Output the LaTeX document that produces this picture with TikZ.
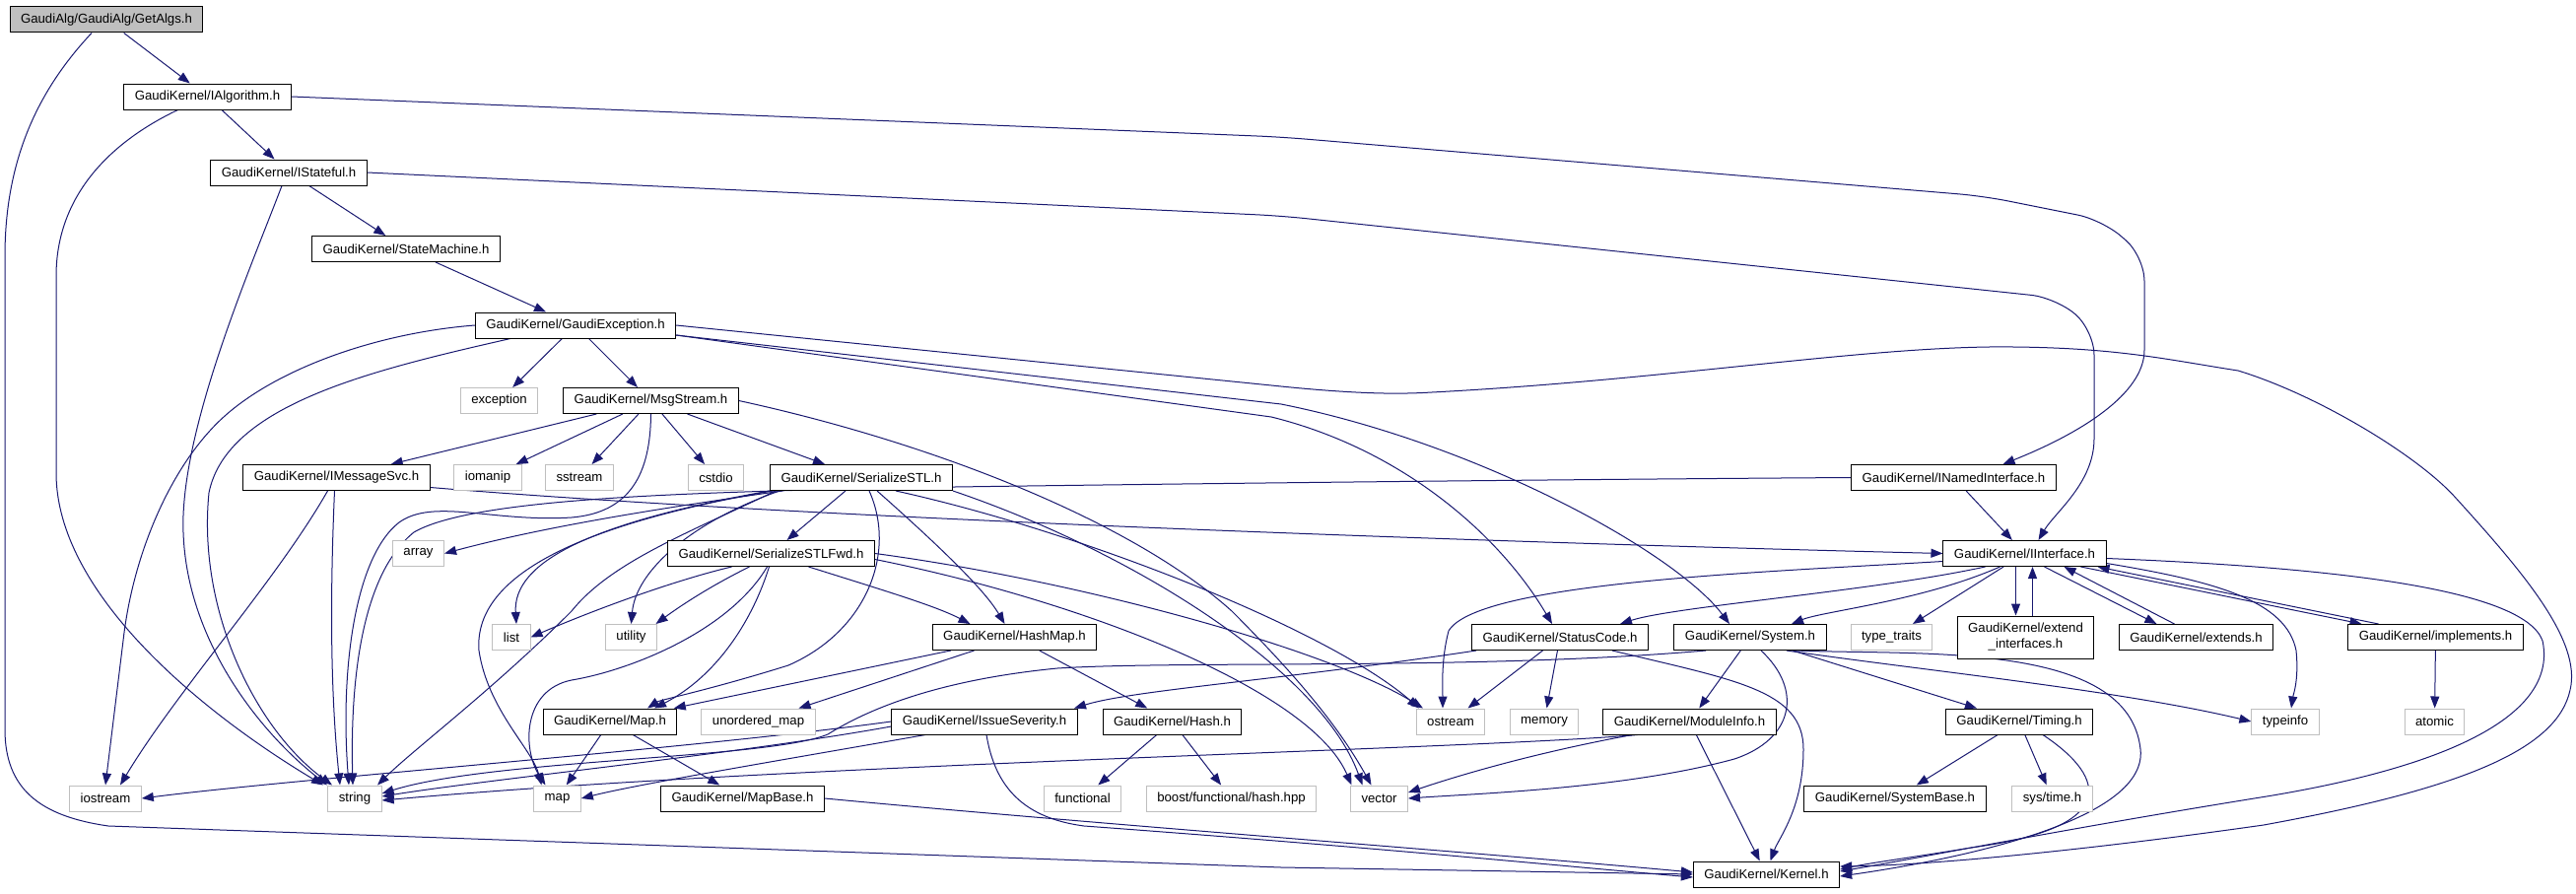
\documentclass[tikz,border=0pt]{standalone}
\usepackage{fontspec}
\setmainfont{Liberation Sans}
\usepackage{xcolor}
\usetikzlibrary{arrows.meta,backgrounds}
\definecolor{edgeblue}{HTML}{191970}
\definecolor{boxgrey}{HTML}{BFBFBF}

\begin{document}
\begin{tikzpicture}[
  x=1pt,y=-1pt,
  every node/.style={font=\fontsize{13.2}{16}\selectfont},
  hdr/.style={draw=black,line width=1pt,fill=white,minimum height=26pt,
              inner xsep=11pt,inner ysep=2pt},
  root/.style={hdr,fill=boxgrey},
  sys/.style={hdr,draw=boxgrey},
  dep/.style={draw=edgeblue,line width=1pt,-{Triangle[length=12pt,width=9pt]}}
]
\useasboundingbox (0,0) rectangle (2614,907);

\node[root] (getalgs) at (108,20) {GaudiAlg/GaudiAlg/GetAlgs.h};
\node[hdr] (ialg) at (210.5,98) {GaudiKernel/IAlgorithm.h};
\node[hdr] (istateful) at (293,175) {GaudiKernel/IStateful.h};
\node[hdr] (statemach) at (412,252.5) {GaudiKernel/StateMachine.h};
\node[hdr] (gexcept) at (584,330) {GaudiKernel/GaudiException.h};
\node[sys] (exc) at (506.5,406.5) {exception};
\node[hdr] (msgstream) at (660.5,406.5) {GaudiKernel/MsgStream.h};
\node[hdr] (imsgsvc) at (341.5,484.5) {GaudiKernel/IMessageSvc.h};
\node[sys] (iomanip) at (495,484.5) {iomanip};
\node[sys] (sstream) at (588,484.5) {sstream};
\node[sys] (cstdio) at (726.5,484.5) {cstdio};
\node[hdr] (serstl) at (874,484.5) {GaudiKernel/SerializeSTL.h};
\node[hdr] (inamed) at (1982.5,484.5) {GaudiKernel/INamedInterface.h};
\node[sys] (array) at (424.5,561.5) {array};
\node[hdr] (serfwd) at (782.5,561.5) {GaudiKernel/SerializeSTLFwd.h};
\node[hdr] (iiface) at (2054.5,561.5) {GaudiKernel/IInterface.h};
\node[sys] (list) at (519,646.5) {list};
\node[sys] (utility) at (640.5,646.5) {utility};
\node[hdr] (hashmap) at (1029.5,646.5) {GaudiKernel/HashMap.h};
\node[hdr] (statuscode) at (1583,646.5) {GaudiKernel/StatusCode.h};
\node[hdr] (system) at (1776,646.5) {GaudiKernel/System.h};
\node[sys] (typetraits) at (1919.5,646.5) {type\_traits};
\node[hdr,align=center,minimum height=43pt] (extif) at (2055.5,646.5) {GaudiKernel/extend\\\_interfaces.h};
\node[hdr] (extends) at (2228.5,646.5) {GaudiKernel/extends.h};
\node[hdr] (implements) at (2471.5,646.5) {GaudiKernel/implements.h};
\node[hdr] (maph) at (619,732) {GaudiKernel/Map.h};
\node[sys] (umap) at (769.5,732) {unordered\_map};
\node[hdr] (issue) at (999,732) {GaudiKernel/IssueSeverity.h};
\node[hdr] (hash) at (1189.5,732) {GaudiKernel/Hash.h};
\node[sys] (ostream) at (1472,732) {ostream};
\node[sys] (memory) at (1567,732) {memory};
\node[hdr] (modinfo) at (1714.5,732) {GaudiKernel/ModuleInfo.h};
\node[hdr] (timing) at (2049,732) {GaudiKernel/Timing.h};
\node[sys] (typeinfo) at (2319,732) {typeinfo};
\node[sys] (atomic) at (2470.5,732) {atomic};
\node[sys] (iostream) at (107,810) {iostream};
\node[sys] (string) at (360,810) {string};
\node[sys] (map) at (565.5,810) {map};
\node[hdr] (mapbase) at (753.5,810) {GaudiKernel/MapBase.h};
\node[sys] (functional) at (1098.5,810) {functional};
\node[sys] (boosthash) at (1249.5,810) {boost/functional/hash.hpp};
\node[sys] (vector) at (1399.5,810) {vector};
\node[hdr] (sysbase) at (1923,810) {GaudiKernel/SystemBase.h};
\node[sys] (systime) at (2082.5,810) {sys/time.h};
\node[hdr] (kernel) at (1792.5,887) {GaudiKernel/Kernel.h};

\begin{pgfonlayer}{background}
\draw[dep] (getalgs) -- (ialg);
\draw[dep] ([xshift=-15pt]getalgs.south) .. controls (40,90) and (5,160) .. (5,260) -- (5,740)
  .. controls (5,800) and (40,828) .. (110,838) -- (1300,880) -- (kernel.west);
\draw[dep] (ialg) -- (istateful);
\draw[dep] ([xshift=-30pt]ialg.south) .. controls (110,145) and (57,200) .. (57,280) -- (57,480)
  .. controls (57,600) and (200,720) .. ([xshift=-32pt]string.north);
\draw[dep,rounded corners=25pt] (ialg.east) -- (1300,139) -- (2013,199) -- (2133,223) -- (2176,260)
  -- (2176,330) .. controls (2176,400) and (2110,440) .. ([xshift=50pt]inamed.north);
\draw[dep] (istateful) -- (statemach);
\draw[dep] ([xshift=-7pt]istateful.south) .. controls (255,270) and (190,420) .. (186,523)
  .. controls (182,640) and (260,740) .. ([xshift=-28pt]string.north);
\draw[dep,rounded corners=25pt] (istateful.east) -- (1300,219) -- (2086,302) -- (2125,335)
  -- (2125,420) .. controls (2125,490) and (2085,520) .. ([xshift=14pt]iiface.north);
\draw[dep] (statemach) -- (gexcept);

\draw[dep] (gexcept) -- (exc);
\draw[dep] (gexcept) -- (msgstream);
\draw[dep] (gexcept.west) .. controls (380,338) and (280,375) .. (227,423)
  .. controls (175,470) and (135,560) .. (125,650) -- (iostream.north);
\draw[dep] ([xshift=-66pt]gexcept.south) .. controls (380,375) and (230,410) .. (212,500)
  .. controls (200,620) and (260,740) .. ([xshift=-23pt]string.north);
\draw[dep] ([yshift=-10pt]gexcept.east) -- (1290,423) .. controls (1420,455) and (1520,540) .. ([xshift=-8pt]statuscode.north);
\draw[dep] ([yshift=-10pt]gexcept.east) -- (1300,410) .. controls (1500,450) and (1700,560) .. ([xshift=-21pt]system.north);
\draw[dep] (gexcept.east) -- (1300,392) .. controls (1380,400) and (1420,400) .. (1453,398)
  .. controls (1700,385) and (1900,350) .. (2043,352) .. controls (2150,353) and (2200,365) .. (2271,376)
  .. controls (2350,400) and (2450,460) .. (2490,503) .. controls (2560,580) and (2620,650) .. (2608,700)
  .. controls (2595,760) and (2500,800) .. (2297,837) .. controls (2100,865) and (1950,878) .. ([yshift=8pt]kernel.east);

\draw[dep] (msgstream) -- (imsgsvc);
\draw[dep] (msgstream) -- (iomanip);
\draw[dep] (msgstream) -- (sstream);
\draw[dep] (msgstream) -- (cstdio);
\draw[dep] (msgstream) -- (serstl);
\draw[dep] (msgstream.south) .. controls (660,480) and (640,520) .. (580,525)
  .. controls (500,530) and (440,505) .. (405,530) .. controls (360,565) and (345,680) .. ([xshift=-6pt]string.north);
\draw[dep] (msgstream.east) .. controls (950,450) and (1150,530) .. (1250,620)
  .. controls (1320,690) and (1360,740) .. ([xshift=-8pt]vector.north);

\draw[dep] ([xshift=-9pt]imsgsvc.south) .. controls (280,590) and (180,700) .. ([xshift=15pt]iostream.north);
\draw[dep] ([xshift=-2pt]imsgsvc.south) .. controls (335,600) and (335,700) .. ([xshift=-15pt]string.north);
\draw[dep] ([yshift=-10pt]imsgsvc.east) .. controls (800,525) and (1500,550) .. (iiface.west);

\draw[dep] (inamed) -- (iiface);
\draw[dep] (inamed.west) .. controls (1500,487) and (1100,492) .. (900,495)
  .. controls (700,500) and (480,505) .. (420,540) .. controls (370,580) and (355,680) .. ([xshift=-2pt]string.north);

\draw[dep] (serstl) -- (serfwd);
\draw[dep] ([xshift=-80pt]serstl.south) .. controls (660,517) and (550,535) .. (array.east);
\draw[dep] (serstl.south west) .. controls (600,530) and (520,570) .. ([xshift=5pt]list.north);
\draw[dep] ([xshift=10pt]serstl.south west) .. controls (700,530) and (645,580) .. (utility.north);
\draw[dep] ([xshift=3pt]serstl.south west) .. controls (600,530) and (480,580) .. (486,660)
  .. controls (495,720) and (540,760) .. ([xshift=-16pt]map.north);
\draw[dep] ([xshift=6pt]serstl.south west) .. controls (700,540) and (620,570) .. (580,620)
  .. controls (500,700) and (420,760) .. ([xshift=23pt]string.north);
\draw[dep] ([xshift=8pt]serstl.south) .. controls (910,560) and (880,640) .. (800,675)
  .. controls (720,700) and (670,710) .. ([xshift=38pt]maph.north);
\draw[dep] ([xshift=16pt]serstl.south) .. controls (960,560) and (1000,600) .. ([xshift=-10pt]hashmap.north);
\draw[dep] ([xshift=35pt]serstl.south) .. controls (1100,540) and (1350,640) .. ([xshift=-32pt]ostream.north);
\draw[dep] (serstl.south east) .. controls (1150,560) and (1340,680) .. ([xshift=-17pt]vector.north);

\draw[dep] ([xshift=-40pt]serfwd.south) .. controls (680,590) and (600,620) .. (list.east);
\draw[dep] ([xshift=-22pt]serfwd.south) .. controls (720,595) and (690,615) .. ([xshift=25pt]utility.north);
\draw[dep] ([xshift=-4pt]serfwd.south) .. controls (740,640) and (640,680) .. (580,690)
  .. controls (530,700) and (530,760) .. ([xshift=-12pt]map.north);
\draw[dep] ([xshift=-2pt]serfwd.south) .. controls (760,640) and (720,690) .. ([xshift=45pt]maph.north);
\draw[dep] ([xshift=38pt]serfwd.south) .. controls (900,600) and (950,615) .. ([xshift=-45pt]hashmap.north);
\draw[dep] (serfwd.east) .. controls (1100,590) and (1350,660) .. ([xshift=-28pt]ostream.north);
\draw[dep] ([yshift=-6pt]serfwd.east) .. controls (1100,610) and (1330,700) .. ([xshift=-28pt]vector.north);

\draw[dep] (hashmap) -- (maph);
\draw[dep] (hashmap) -- (umap);
\draw[dep] (hashmap) -- (hash);
\draw[dep] (maph) -- (map);
\draw[dep] (maph) -- (mapbase);
\draw[dep] (hash) -- (functional);
\draw[dep] (hash) -- (boosthash);
\draw[dep] (mapbase.east) .. controls (1100,835) and (1500,865) .. ([yshift=2pt]kernel.west);

\draw[dep] ([yshift=-8pt]iiface.west) .. controls (1800,580) and (1500,590) .. (1470,640)
  .. controls (1462,670) and (1464,700) .. ([xshift=-8pt]ostream.north);
\draw[dep] ([xshift=-40pt]iiface.south) .. controls (1900,600) and (1700,615) .. ([xshift=61pt]statuscode.north);
\draw[dep] ([xshift=-25pt]iiface.south) .. controls (1950,610) and (1850,620) .. ([xshift=42pt]system.north);
\draw[dep] (iiface) -- (typetraits);
\draw[dep] ([xshift=-9pt]iiface.south) -- ([xshift=-10pt]extif.north);
\draw[dep] ([xshift=7pt]extif.north) -- ([xshift=8pt]iiface.south);
\draw[dep] ([xshift=20pt]iiface.south) -- ([xshift=-40pt]extends.north);
\draw[dep] ([xshift=-22pt]extends.north) -- ([xshift=40pt]iiface.south);
\draw[dep] ([xshift=57pt]iiface.south) -- ([xshift=-75pt]implements.north);
\draw[dep] ([xshift=-58pt]implements.north) -- ([xshift=74pt]iiface.south);
\draw[dep] ([yshift=-10pt]iiface.east) .. controls (2250,590) and (2320,610) .. (2330,660)
  .. controls (2333,690) and (2327,705) .. ([xshift=6pt]typeinfo.north);
\draw[dep] ([yshift=-5pt]iiface.east) .. controls (2350,575) and (2560,595) .. (2580,650)
  .. controls (2595,720) and (2500,775) .. (2300,808) .. controls (2100,840) and (1950,870) .. ([yshift=3pt]kernel.east);
\draw[dep] (implements) -- (atomic);

\draw[dep] (statuscode) -- (ostream);
\draw[dep] (statuscode) -- (memory);
\draw[dep] ([xshift=-85pt]statuscode.south) .. controls (1300,690) and (1150,700) .. ([xshift=91pt]issue.north);
\draw[dep] ([xshift=53pt]statuscode.south) .. controls (1760,690) and (1830,700) .. (1830,760)
  .. controls (1830,820) and (1805,850) .. ([xshift=4pt]kernel.north);

\draw[dep] (system) -- (modinfo);
\draw[dep] (system) -- (timing);
\draw[dep] ([xshift=37pt]system.south) .. controls (1950,680) and (2150,700) .. (typeinfo.west);
\draw[dep] ([xshift=45pt]system.south) .. controls (1950,665) and (2160,650) .. (2172,760)
  .. controls (2180,830) and (2000,870) .. ([yshift=-2pt]kernel.east);
\draw[dep] ([xshift=-45pt]system.south) .. controls (1500,680) and (1200,670) .. (1073,678)
  .. controls (950,690) and (880,720) .. (840,745) .. controls (780,770) and (500,770) .. ([yshift=5pt]string.east);
\draw[dep] ([xshift=11pt]system.south) .. controls (1830,700) and (1820,750) .. (1760,770)
  .. controls (1650,800) and (1500,805) .. (vector.east);

\draw[dep] (modinfo) -- (kernel);
\draw[dep] ([xshift=-53pt]modinfo.south) .. controls (1500,760) and (800,775) .. ([yshift=-2pt]string.east);
\draw[dep] ([xshift=-58pt]modinfo.south) .. controls (1550,765) and (1470,790) .. ([yshift=6pt]vector.east);

\draw[dep] (issue.west) .. controls (700,760) and (300,790) .. (iostream.east);
\draw[dep] ([yshift=-5pt]issue.west) .. controls (750,765) and (500,790) .. ([yshift=2pt]string.east);
\draw[dep] ([xshift=-60pt]issue.south) .. controls (800,770) and (650,795) .. (map.east);
\draw[dep] ([xshift=2pt]issue.south) .. controls (1010,800) and (1040,830) .. (1100,838)
  .. controls (1400,860) and (1600,880) .. ([yshift=-3pt]kernel.west);

\draw[dep] (timing) -- (sysbase);
\draw[dep] (timing) -- (systime);
\draw[dep] ([xshift=24pt]timing.south) .. controls (2140,790) and (2150,840) .. (2000,860)
  .. controls (1940,870) and (1900,875) .. ([yshift=5pt]kernel.east);
\end{pgfonlayer}
\end{tikzpicture}
\end{document}
